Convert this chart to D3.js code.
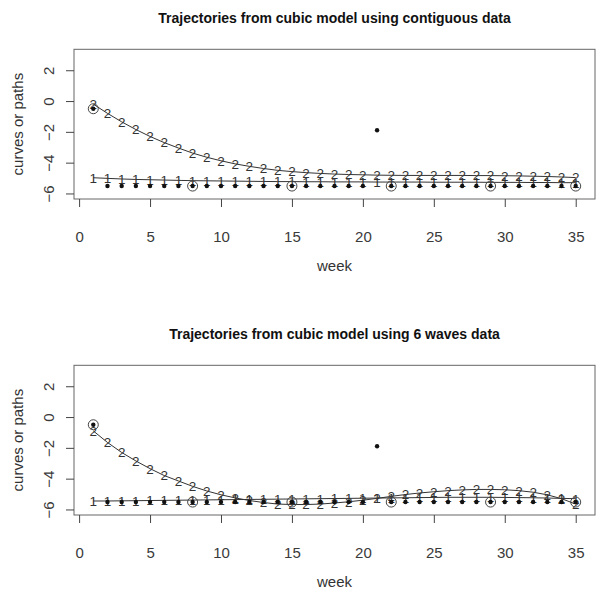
<!DOCTYPE html>
<meta charset="utf-8">
<head>
    <title>Trajectories</title>
</head>

<style>

body { margin: 0; background: #fff; }

text { font-family: "Liberation Sans", Arial, sans-serif; fill: #333; }

.axis text { font-size: 15px; fill: #3a3a3a; }

.axis line { stroke: #444; }

.axis path { display: none; }

.box { fill: none; stroke: #666; stroke-width: 1; }

.curve { fill: none; stroke: #333; stroke-width: 1; }

.title { font-size: 14px; font-weight: bold; fill: #111; }

.glyph { font-size: 13.5px; fill: #333; }

</style>
<body>
<script src="https://cdnjs.cloudflare.com/ajax/libs/d3/7.8.5/d3.min.js"></script>
<script>

// weeks 1..35
var weeks = [1,2,3,4,5,6,7,8,9,10,11,12,13,14,15,16,17,18,19,20,
             21,22,23,24,25,26,27,28,29,30,31,32,33,34,35];

// observed values (same in both panels)
var observed = [-0.5,-5.52,-5.52,-5.52,-5.52,-5.52,-5.52,-5.52,-5.52,-5.52,
                -5.52,-5.52,-5.52,-5.52,-5.52,-5.52,-5.52,-5.52,-5.52,-5.52,
                -1.9,-5.52,-5.52,-5.52,-5.52,-5.52,-5.52,-5.52,-5.52,-5.52,
                -5.52,-5.52,-5.52,-5.52,-5.52];

// weeks of the 6 waves (circled points)
var waves = [1, 8, 15, 22, 29, 35];

// contiguous data model
var contig1 = [-4.98,-5.02,-5.06,-5.09,-5.11,-5.13,-5.15,-5.17,-5.18,-5.19,
               -5.20,-5.21,-5.22,-5.23,-5.23,-5.24,-5.24,-5.25,-5.25,-5.25,
               -5.26,-5.26,-5.26,-5.26,-5.27,-5.27,-5.27,-5.27,-5.28,-5.28,
               -5.28,-5.29,-5.29,-5.30,-5.30];
var contig2 = [-0.2,-0.8,-1.35,-1.85,-2.3,-2.7,-3.05,-3.38,-3.65,-3.88,
               -4.08,-4.24,-4.38,-4.5,-4.58,-4.65,-4.7,-4.74,-4.77,-4.79,
               -4.81,-4.82,-4.83,-4.83,-4.83,-4.83,-4.83,-4.84,-4.84,-4.85,
               -4.86,-4.88,-4.9,-4.93,-4.97];

// 6 waves data model
var waves1 = [-5.45,-5.45,-5.44,-5.43,-5.42,-5.41,-5.40,-5.39,-5.38,-5.37,
              -5.36,-5.35,-5.34,-5.33,-5.32,-5.31,-5.30,-5.29,-5.28,-5.27,
              -5.26,-5.25,-5.24,-5.23,-5.22,-5.21,-5.21,-5.21,-5.21,-5.22,
              -5.23,-5.24,-5.26,-5.28,-5.30];
var waves2 = [-0.9,-1.65,-2.3,-2.85,-3.35,-3.8,-4.15,-4.5,-4.8,-5.05,
              -5.25,-5.42,-5.55,-5.65,-5.68,-5.68,-5.65,-5.58,-5.5,-5.4,
              -5.28,-5.15,-5.03,-4.93,-4.85,-4.78,-4.73,-4.7,-4.7,-4.72,
              -4.78,-4.88,-5.05,-5.3,-5.65];

var xTicks = [0, 5, 10, 15, 20, 25, 30, 35];
var yTicks = [-6, -4, -2, 0, 2];

var titles = ["Trajectories from cubic model using contiguous data",
              "Trajectories from cubic model using 6 waves data"];

var box = {left: 74, right: 595, top: 49.3, bottom: 199};
var panelOffset = 316;

var svg = d3.select("body").append("svg")
    .attr("width", 602)
    .attr("height", 593);

var x = d3.scaleLinear()
    .domain([-0.36, 36.36])
    .range([box.left, box.right]);

var y = d3.scaleLinear()
    .domain([-6.36, 3.36])
    .range([box.bottom, box.top]);

function drawPanel(g, title, curve1, curve2) {

  g.append("text")
      .attr("class", "title")
      .attr("x", (box.left + box.right) / 2)
      .attr("y", 18)
      .attr("dy", ".35em")
      .style("text-anchor", "middle")
      .text(title);

  g.append("rect")
      .attr("class", "box")
      .attr("x", box.left)
      .attr("y", box.top)
      .attr("width", box.right - box.left)
      .attr("height", box.bottom - box.top);

  g.append("g")
      .attr("class", "axis axis--x")
      .attr("transform", "translate(0," + box.bottom + ")")
      .call(d3.axisBottom(x).tickValues(xTicks).tickSize(8).tickSizeOuter(0).tickPadding(24));

  var ya = g.append("g")
      .attr("class", "axis axis--y")
      .attr("transform", "translate(" + box.left + ",0)")
      .call(d3.axisLeft(y).tickValues(yTicks).tickSize(8).tickSizeOuter(0));

  // R style: labels parallel to the axis
  ya.selectAll(".tick text")
      .attr("x", 0)
      .attr("y", -20.5)
      .attr("dy", null)
      .attr("transform", "rotate(-90)")
      .style("text-anchor", "middle");

  g.append("text")
      .attr("class", "axis-label")
      .attr("transform", "translate(18," + (box.top + box.bottom) / 2 + ") rotate(-90)")
      .attr("dy", ".35em")
      .style("text-anchor", "middle")
      .style("font-size", "15px")
      .text("curves or paths");

  g.append("text")
      .attr("class", "axis-label")
      .attr("x", (box.left + box.right) / 2)
      .attr("y", 266)
      .attr("dy", ".35em")
      .style("text-anchor", "middle")
      .style("font-size", "15px")
      .text("week");

  var line = d3.line()
      .x(function(d, i) { return x(weeks[i]); })
      .y(function(d) { return y(d); });

  [curve1, curve2].forEach(function(c, k) {
    g.append("path")
        .datum(c)
        .attr("class", "curve")
        .attr("d", line);

    g.selectAll(".glyph" + k)
        .data(c)
      .enter().append("text")
        .attr("class", "glyph glyph" + k)
        .attr("x", function(d, i) { return x(weeks[i]); })
        .attr("y", function(d) { return y(d); })
        .attr("dy", ".36em")
        .style("text-anchor", "middle")
        .text(String(k + 1));
  });

  g.selectAll(".dot")
      .data(observed)
    .enter().append("circle")
      .attr("class", "dot")
      .attr("cx", function(d, i) { return x(weeks[i]); })
      .attr("cy", function(d) { return y(d); })
      .attr("r", 2.2)
      .style("fill", "#111");

  g.selectAll(".ring")
      .data(waves)
    .enter().append("circle")
      .attr("class", "ring")
      .attr("cx", function(d) { return x(d); })
      .attr("cy", function(d) { return y(observed[d - 1]); })
      .attr("r", 5)
      .style("fill", "none")
      .style("stroke", "#444");
}

drawPanel(svg.append("g"), titles[0], contig1, contig2);
drawPanel(svg.append("g").attr("transform", "translate(0," + panelOffset + ")"), titles[1], waves1, waves2);

</script>
